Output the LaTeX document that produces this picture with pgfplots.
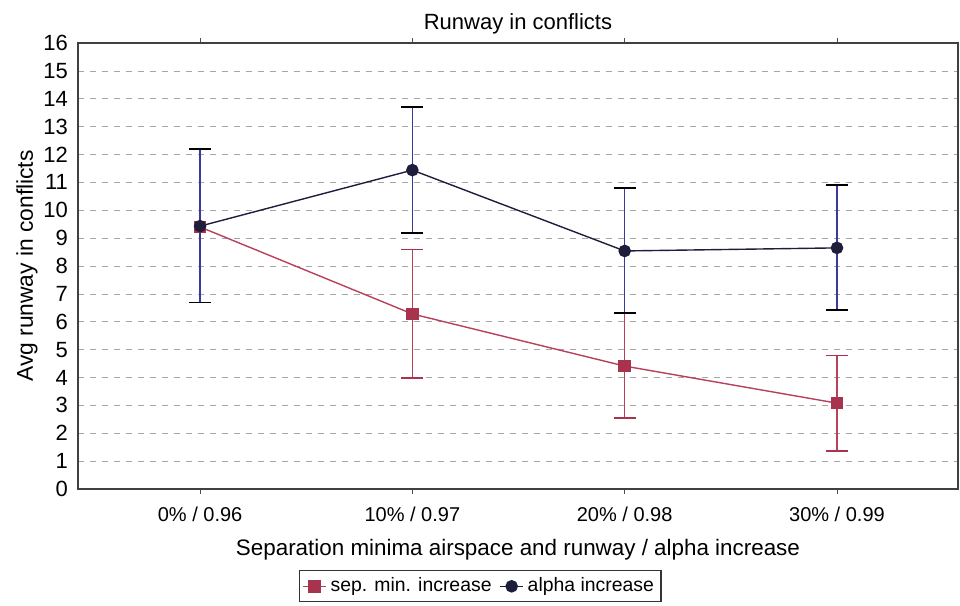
\documentclass[border=0pt]{standalone}
\usepackage{pgfplots}
\pgfplotsset{compat=1.18}
\usepackage{fontspec}
\setmainfont{Liberation Sans}
\definecolor{sepc}{HTML}{A8334F}
\definecolor{sepline}{HTML}{B8405A}
\definecolor{alphac}{HTML}{1E1E3C}
\definecolor{alphabar}{HTML}{3A3A9A}
\begin{document}
\begin{tikzpicture}
\begin{axis}[
  scale only axis,
  width=440pt, height=223pt,
  xmin=-0.575, xmax=3.57,
  ymin=0, ymax=16,
  xtick={0,1,2,3},
  xticklabels={0\% / 0.96, 10\% / 0.97, 20\% / 0.98, 30\% / 0.99},
  ytick={0,1,...,16},
  /pgf/number format/assume math mode=true,
  yticklabel style={font=\fontsize{11}{11}\selectfont, xshift=1pt},
  xticklabel style={font=\fontsize{10}{10}\selectfont, yshift=-3pt},
  tick align=outside,
  major tick length=2.5pt,
  ytick style={draw=none},
  xtick style={color=black!70},
  axis line style={color=black!75, line width=0.6pt},
  ymajorgrids,
  major grid style={dashed, color=black!35, line width=0.3pt},
  title={Runway in conflicts},
  title style={font=\fontsize{11}{11}\selectfont, yshift=-5pt},
  xlabel={Separation minima airspace and runway / alpha increase},
  xlabel style={font=\fontsize{11.2}{12}\selectfont, yshift=-2pt},
  ylabel={Avg runway in conflicts},
  ylabel style={font=\fontsize{11.4}{12}\selectfont, yshift=-4pt},
  legend style={at={(0.457,-0.182)}, anchor=north, legend columns=2,
    font=\fontsize{9.7}{10}\selectfont, draw=black!80, line width=0.6pt,
    inner sep=1.5pt, /tikz/every even column/.append style={column sep=2pt}},
  legend image code/.code={\draw[mark repeat=2,mark phase=2,#1]
    plot coordinates {(0cm,0cm) (0.2cm,0cm) (0.4cm,0cm)};},
  legend cell align=left,
]
\addplot[color=sepline, line width=0.7pt, mark=square*, mark size=2.8pt,
  mark options={fill=sepc, draw=sepc},
  error bars/.cd, y dir=both, y explicit,
  error bar style={color=sepline, line width=0.8pt},
  error mark options={rotate=90, color=sepc, mark size=5.5pt, line width=0.7pt}]
  coordinates {
  (0,9.40) += (0,2.77) -= (0,2.70)
  (1,6.28) += (0,2.32) -= (0,2.30)
  (2,4.41) += (0,1.89) -= (0,1.86)
  (3,3.08) += (0,1.72) -= (0,1.72)
  };
\addlegendentry{sep. min. increase}
\addplot[color=alphac, line width=0.7pt, mark=*, mark size=2.8pt,
  mark options={fill=alphac, draw=alphac},
  error bars/.cd, y dir=both, y explicit,
  error bar style={color=alphabar, line width=0.8pt},
  error mark options={rotate=90, color=black, mark size=5.5pt, line width=0.7pt}]
  coordinates {
  (0,9.43) += (0,2.77) -= (0,2.73)
  (1,11.44) += (0,2.26) -= (0,2.26)
  (2,8.54) += (0,2.26) -= (0,2.23)
  (3,8.65) += (0,2.25) -= (0,2.23)
  };
\addlegendentry{alpha increase}
\coordinate (bl) at (rel axis cs:0,0);
\end{axis}
\pgfresetboundingbox
\path (bl) ++(-39pt,-58.5pt) rectangle ++(480pt,303pt);
\end{tikzpicture}
\end{document}
